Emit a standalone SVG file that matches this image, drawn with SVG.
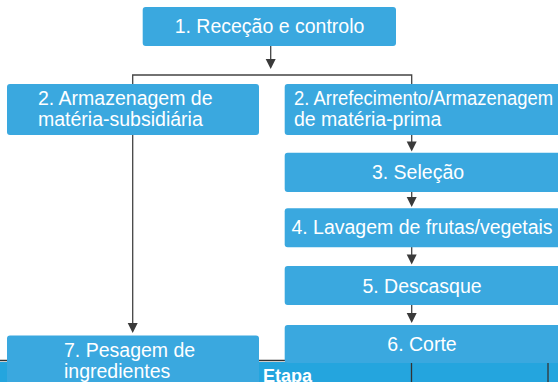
<svg xmlns="http://www.w3.org/2000/svg" width="558" height="382" viewBox="0 0 558 382">
<style>
.box{fill:#3aa8df}
.t{font-family:"Liberation Sans",Arial,sans-serif;font-size:19.5px;fill:#ffffff}
.c{text-anchor:middle}
.ln{stroke:#444444;stroke-width:1.3;fill:none}
.ah{fill:#3a3a3a}
.hd{font-family:"Liberation Sans",Arial,sans-serif;font-size:18px;font-weight:bold;fill:#ffffff}
</style>
<g id="table-header">
<line x1="0" y1="360.5" x2="558" y2="360.5" stroke="#333333" stroke-width="1.3"/>
<rect x="0" y="362" width="558" height="20" fill="#24a5de"/>
<line x1="411.5" y1="363" x2="411.5" y2="382" stroke="#333333" stroke-width="1.3"/>
<line x1="548" y1="363" x2="548" y2="382" stroke="#333333" stroke-width="1.3"/>
<text class="hd" x="263" y="382">Etapa</text>
</g>
<g id="connectors">
<path class="ln" d="M270.7,46 V60"/>
<path class="ah" d="M265.7,59 L275.7,59 L270.7,69 Z"/>
<path class="ln" d="M132.7,84 V75 H411.7 V84"/>
<path class="ln" d="M132.7,135 V324"/>
<path class="ah" d="M127.7,323 L137.7,323 L132.7,333 Z"/>
<path class="ln" d="M411.7,135 V142"/>
<path class="ah" d="M406.7,141.5 L416.7,141.5 L411.7,151.5 Z"/>
<path class="ln" d="M411.7,192 V198"/>
<path class="ah" d="M406.7,197 L416.7,197 L411.7,207 Z"/>
<path class="ln" d="M411.7,247 V256"/>
<path class="ah" d="M406.7,254.5 L416.7,254.5 L411.7,264.5 Z"/>
<path class="ln" d="M411.7,305 V314"/>
<path class="ah" d="M406.7,313 L416.7,313 L411.7,323 Z"/>
</g>
<g id="n1">
<rect class="box" x="142.7" y="7" width="253.3" height="39" rx="3"/>
<text class="t c" x="269.5" y="33">1. Receção e controlo</text>
</g>
<g id="n2a">
<rect class="box" x="7" y="84" width="252" height="51" rx="3"/>
<text class="t" x="38" y="105">2. Armazenagem de</text>
<text class="t" x="38" y="126">matéria-subsidiária</text>
</g>
<g id="n2b">
<rect class="box" x="284.7" y="84" width="290" height="51" rx="3"/>
<text class="t" x="294" y="105" textLength="259" lengthAdjust="spacingAndGlyphs">2. Arrefecimento/Armazenagem</text>
<text class="t" x="294" y="126">de matéria-prima</text>
</g>
<g id="n3">
<rect class="box" x="284.7" y="152.7" width="290" height="39.3" rx="3"/>
<text class="t c" x="418" y="179.3">3. Seleção</text>
</g>
<g id="n4">
<rect class="box" x="284.7" y="208.3" width="290" height="39" rx="3"/>
<text class="t c" x="422" y="234.3">4. Lavagem de frutas/vegetais</text>
</g>
<g id="n5">
<rect class="box" x="284.7" y="266" width="290" height="39" rx="3"/>
<text class="t c" x="422" y="292.5">5. Descasque</text>
</g>
<g id="n6">
<rect class="box" x="284.7" y="325" width="290" height="38" rx="3"/>
<text class="t c" x="422" y="351">6. Corte</text>
</g>
<g id="n7">
<rect class="box" x="7" y="335.5" width="252" height="60" rx="3"/>
<text class="t" x="64" y="357">7. Pesagem de</text>
<text class="t" x="64" y="378">ingredientes</text>
</g>
</svg>
